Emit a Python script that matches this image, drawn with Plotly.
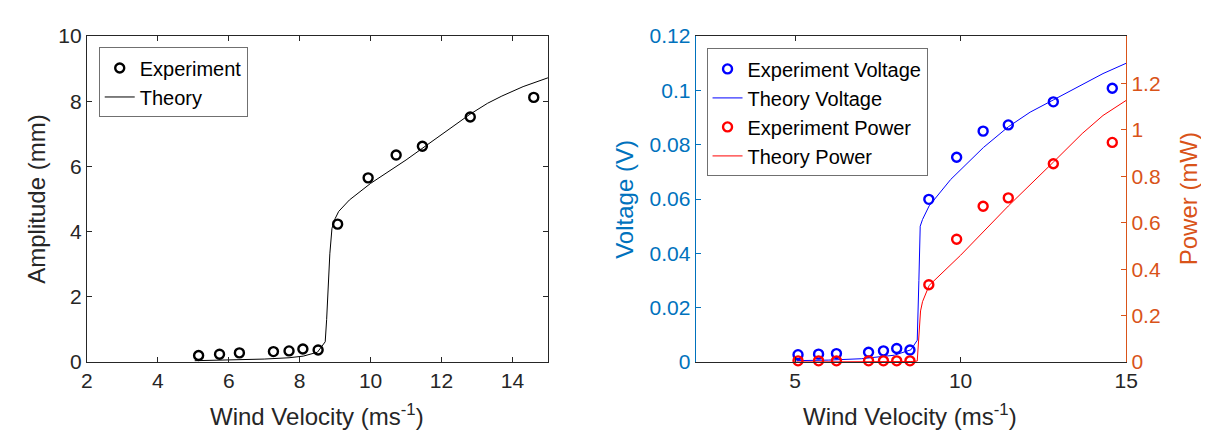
import plotly.graph_objects as go

# ---------------- data ----------------
# Left panel: amplitude
amp_exp_x = [5.15, 5.74, 6.30, 7.26, 7.70, 8.09, 8.52, 9.07, 9.93, 10.72, 11.46, 12.81, 14.60]
amp_exp_y = [0.20, 0.24, 0.28, 0.32, 0.34, 0.40, 0.37, 4.23, 5.65, 6.35, 6.62, 7.52, 8.12]
amp_th_x = [5.04, 6.0, 7.0, 7.7, 8.1, 8.5, 8.69, 8.72, 8.76, 8.79, 8.85, 8.91, 9.0, 9.1, 9.4,
            10.0, 10.5, 11.0, 11.9, 12.8, 13.3, 13.7, 14.3, 15.0]
amp_th_y = [0.04, 0.06, 0.09, 0.13, 0.18, 0.30, 0.56, 0.62, 1.30, 2.06, 3.32, 4.10, 4.40, 4.62, 4.97,
            5.48, 5.85, 6.20, 6.90, 7.60, 7.94, 8.16, 8.45, 8.72]

# Right panel: voltage & power
vp_exp_x = [5.09, 5.71, 6.25, 7.22, 7.67, 8.07, 8.47, 9.04, 9.88, 10.68, 11.44, 12.80, 14.58]
volt_exp = [0.0027, 0.0029, 0.0031, 0.0036, 0.0041, 0.0050, 0.0044, 0.0599, 0.0754, 0.0850, 0.0873, 0.0958, 0.1008]
power_exp = [0.005, 0.005, 0.005, 0.005, 0.005, 0.005, 0.005, 0.333, 0.529, 0.671, 0.707, 0.854, 0.946]

volt_th_x = [5.04, 6.0, 7.0, 8.0, 8.5, 8.69, 8.74, 8.78, 8.85, 8.91, 9.05, 9.7, 10.0, 10.69, 11.44,
             12.1, 12.8, 13.67, 14.3, 15.0]
volt_th_y = [0.0005, 0.0007, 0.0012, 0.0025, 0.0045, 0.008, 0.030, 0.050, 0.0525, 0.0540, 0.0575, 0.0672,
             0.0708, 0.0790, 0.0866, 0.0920, 0.0965, 0.1022, 0.1062, 0.1100]
power_th_x = [5.04, 6.0, 7.0, 8.0, 8.5, 8.69, 8.74, 8.79, 8.85, 8.91, 9.05, 10.0, 10.69, 11.44, 12.8,
              13.67, 14.3, 15.0]
power_th_y = [0.0, 0.0, 0.0005, 0.001, 0.002, 0.004, 0.12, 0.22, 0.26, 0.28, 0.33, 0.46, 0.563, 0.672,
              0.861, 0.984, 1.062, 1.127]

amp_ticks = [0, 2, 4, 6, 8, 10]
x_left_ticks = [2, 4, 6, 8, 10, 12, 14]
x_right_ticks = [5, 10, 15]
volt_ticks = [0, 0.02, 0.04, 0.06, 0.08, 0.1, 0.12]
power_ticks = [0, 0.2, 0.4, 0.6, 0.8, 1.0, 1.2]

# ---------------- layout geometry ----------------
W, H = 1209, 437
FONT = "Liberation Sans, Arial, sans-serif"
DARK = "#262626"
VCOL = "#0072BD"
PCOL = "#D95319"

def px(x):
    return x / W

def py(y):
    return 1 - y / H

LX = [px(74), px(542)]
RX = [px(692), px(1129)]
YD = [py(361), py(17)]

fig = go.Figure()

mk = dict(symbol="circle-open", size=9, line=dict(width=2.4))

fig.add_trace(go.Scatter(x=amp_exp_x, y=amp_exp_y, mode="markers", name="Experiment",
                         marker=dict(color="black", **mk), xaxis="x", yaxis="y",
                         legend="legend", cliponaxis=False))
fig.add_trace(go.Scatter(x=amp_th_x, y=amp_th_y, mode="lines", name="Theory",
                         line=dict(color="black", width=1), xaxis="x", yaxis="y", legend="legend"))

fig.add_trace(go.Scatter(x=vp_exp_x, y=volt_exp, mode="markers", name="Experiment Voltage",
                         marker=dict(color="#0000FF", **mk), xaxis="x2", yaxis="y2",
                         legend="legend2", cliponaxis=False))
fig.add_trace(go.Scatter(x=volt_th_x, y=volt_th_y, mode="lines", name="Theory Voltage",
                         line=dict(color="#0000FF", width=1), xaxis="x2", yaxis="y2", legend="legend2"))
fig.add_trace(go.Scatter(x=vp_exp_x, y=power_exp, mode="markers", name="Experiment Power",
                         marker=dict(color="#FF0000", **mk), xaxis="x2", yaxis="y3",
                         legend="legend2", cliponaxis=False))
fig.add_trace(go.Scatter(x=power_th_x, y=power_th_y, mode="lines", name="Theory Power",
                         line=dict(color="#FF0000", width=1), xaxis="x2", yaxis="y3", legend="legend2"))

tickfont = dict(family=FONT, size=21, color=DARK)
common = dict(showgrid=False, zeroline=False, ticks="inside", ticklen=5, tickwidth=1,
              showline=True, linewidth=1)

fig.update_layout(
    width=W, height=H,
    margin=dict(l=0, r=0, t=0, b=0),
    paper_bgcolor="white", plot_bgcolor="white",
    font=dict(family=FONT, color=DARK),
    xaxis=dict(domain=LX, anchor="y", range=[2, 15], tickvals=x_left_ticks,
               linecolor=DARK, tickcolor=DARK, mirror="ticks", tickfont=tickfont, **common),
    yaxis=dict(domain=YD, anchor="x", range=[0, 10], tickvals=amp_ticks,
               linecolor=DARK, tickcolor=DARK, mirror="ticks", tickfont=tickfont, **common),
    xaxis2=dict(domain=RX, anchor="y2", range=[2, 15], tickvals=x_right_ticks,
                linecolor=DARK, tickcolor=DARK, mirror="ticks", tickfont=tickfont, **common),
    yaxis2=dict(domain=YD, anchor="x2", range=[0, 0.12], tickvals=volt_ticks,
                ticktext=["0", "0.02", "0.04", "0.06", "0.08", "0.1", "0.12"],
                linecolor=VCOL, tickcolor=VCOL, tickfont=dict(family=FONT, size=21, color=VCOL), **common),
    yaxis3=dict(overlaying="y2", anchor="x2", side="right", range=[0, 1.404], tickvals=power_ticks,
                ticktext=["0", "0.2", "0.4", "0.6", "0.8", "1", "1.2"],
                linecolor=PCOL, tickcolor=PCOL, tickfont=dict(family=FONT, size=21, color=PCOL), **common),
    legend=dict(x=px(86), y=py(29), xanchor="left", yanchor="top", bgcolor="white",
                bordercolor="#707070", borderwidth=1, font=dict(family=FONT, size=20, color="black"),
                tracegroupgap=0, itemwidth=30),
    legend2=dict(x=px(703), y=py(30), xanchor="left", yanchor="top", bgcolor="white",
                 bordercolor="#707070", borderwidth=1, font=dict(family=FONT, size=20, color="black"),
                 tracegroupgap=0, itemwidth=30),
    showlegend=True,
)

title_font = dict(family=FONT, size=24, color=DARK)
ann = [
    dict(text="Amplitude (mm)", x=px(22), y=py(189), textangle=-90, font=title_font),
    dict(text="Wind Velocity (ms<sup>-1</sup>)", x=px(308), y=py(417), font=title_font),
    dict(text="Voltage (V)", x=px(619), y=py(189), textangle=-90,
         font=dict(family=FONT, size=24, color=VCOL)),
    dict(text="Power (mW)", x=px(1192), y=py(189), textangle=-90,
         font=dict(family=FONT, size=24, color=PCOL)),
    dict(text="Wind Velocity (ms<sup>-1</sup>)", x=px(910), y=py(417), font=title_font),
]
for a in ann:
    fig.add_annotation(xref="paper", yref="paper", showarrow=False, xanchor="center",
                       yanchor="middle", **a)

fig.write_html("out.html")
